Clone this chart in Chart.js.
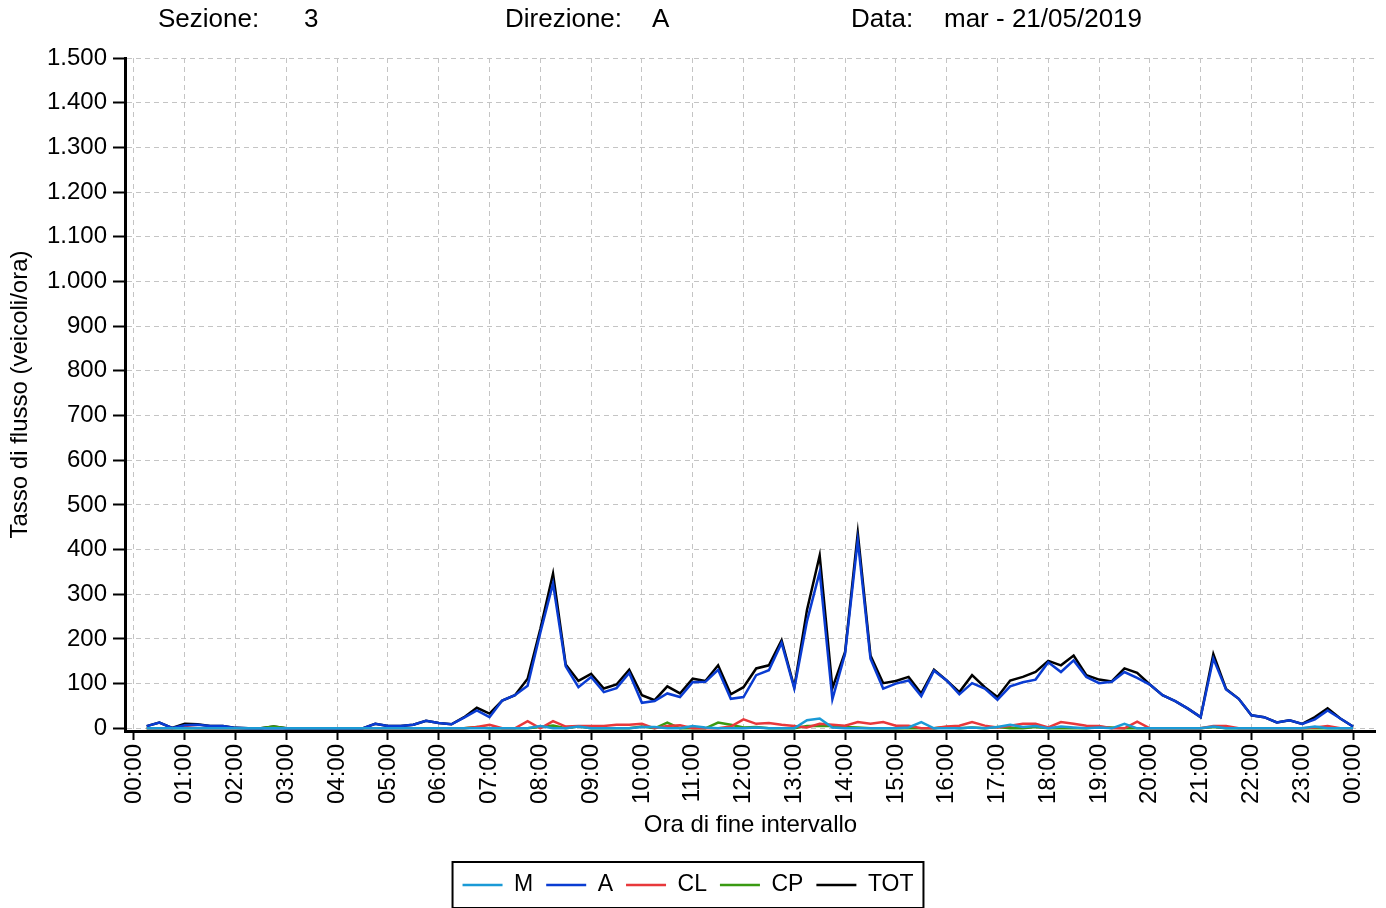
<!DOCTYPE html>
<html>
<head>
<meta charset="utf-8">
<script src="https://cdn.jsdelivr.net/npm/chart.js@4/dist/chart.umd.min.js"></script>
<style>
  html, body { margin: 0; padding: 0; background: #fff; }
  #wrap { width: 1386px; height: 908px; position: relative; }
</style>
</head>
<body>
<div id="wrap"><canvas id="c" width="1386" height="908"></canvas></div>
<script>
// ---- Data (15-minute intervals, end times 00:15 ... 24:00) ----
const intervalEnds = [];
for (let h = 0; h < 24; h++) {
  ['15', '30', '45'].forEach(m => intervalEnds.push(String(h).padStart(2, '0') + ':' + m));
  intervalEnds.push(String(h + 1).padStart(2, '0') + ':00');
}
const hourTickLabels = ['00:00','01:00','02:00','03:00','04:00','05:00','06:00','07:00','08:00','09:00','10:00','11:00','12:00','13:00','14:00','15:00','16:00','17:00','18:00','19:00','20:00','21:00','22:00','23:00','00:00'];
const yTicks = [0,100,200,300,400,500,600,700,800,900,1000,1100,1200,1300,1400,1500];

const seriesM = [
  0,0,0,0, 0,0,0,0, 0,0,0,0, 0,0,0,0, 0,0,0,0, 0,0,0,0,
  0,0,0,0, 0,0,0,5, 0,0,4,0, 0,0,0,3, 3,0,0,5, 2,0,0,0,
  2,0,0,0, 18,22,2,0, 0,0,0,0, 2,14,0,0, 0,2,0,3, 8,3,5,0,
  4,2,0,2, 0,10,0,0, 0,0,0,0, 4,0,0,0, 0,0,0,0, 4,0,0,0
];
const seriesA = [
  5,13,1,7, 8,5,5,1, 0,0,0,0, 0,0,0,0, 0,0,10,5, 5,8,17,12,
  9,24,40,25, 62,74,95,214, 324,139,92,115, 81,90,124,57, 61,78,70,103, 104,131,66,70,
  119,130,191,89, 240,350,65,167, 421,156,89,100, 107,72,129,107, 76,101,89,64, 94,103,109,148,
  126,152,115,101, 104,126,113,98, 74,61,44,25, 156,87,66,29, 25,13,18,10, 20,40,22,4
];
const seriesCL = [
  0,0,0,3, 0,0,0,0, 0,0,0,0, 0,0,0,0, 0,0,0,0, 0,0,0,0,
  0,0,3,8, 0,0,16,0, 16,4,5,5, 5,8,8,10, 0,5,7,0, 0,0,4,20,
  10,12,8,5, 2,10,8,6, 14,10,14,6, 6,0,0,4, 6,14,6,2, 6,10,10,2,
  14,10,6,5, 0,0,15,0, 0,0,0,0, 5,5,0,0, 0,0,0,0, 2,5,0,0
];
const seriesCP = [
  0,0,0,0, 0,0,0,0, 0,0,4,0, 0,0,0,0, 0,0,0,0, 0,0,0,0,
  0,0,3,0, 0,0,0,3, 6,0,4,0, 0,0,0,4, 0,13,0,0, 0,13,8,2,
  3,0,0,0, 5,5,5,3, 2,0,0,0, 0,0,0,3, 0,2,0,3, 0,0,3,0,
  0,0,0,3, 2,0,0,0, 0,0,0,0, 3,0,0,0, 0,0,0,0, 0,0,0,0
];
const seriesTOT = [
  5,13,1,10, 9,5,5,1, 0,0,4,0, 0,0,0,0, 0,0,10,5, 5,8,17,12,
  9,25,46,33, 62,74,111,222, 346,143,106,122, 89,98,131,74, 63,94,78,111, 106,141,76,92,
  134,141,197,92, 265,387,90,171, 437,163,101,106, 115,78,131,107, 81,119,92,70, 107,115,126,151,
  141,163,119,109, 105,134,124,98, 74,61,44,25, 166,88,66,29, 25,13,18,10, 25,45,22,4
];

const headerItems = [
  { text: 'Sezione:', x: 158 }, { text: '3', x: 304 },
  { text: 'Direzione:', x: 505 }, { text: 'A', x: 652 },
  { text: 'Data:', x: 851 }, { text: 'mar - 21/05/2019', x: 944 }
];

// ---- Helpers ----
const FONT = '"Liberation Sans", Arial, Helvetica, sans-serif';
const toMinutes = s => { const [h, m] = s.split(':').map(Number); return h * 60 + m; };
const toPoints = arr => arr.map((v, i) => ({ x: toMinutes(intervalEnds[i]), y: v }));
const fmtIt = v => String(v).replace(/\B(?=(\d{3})+(?!\d))/g, '.');

const mk = (label, data, color) => ({
  label, data: toPoints(data), borderColor: color, backgroundColor: color,
  borderWidth: 2.5, pointRadius: 0, tension: 0, fill: false
});

const headerPlugin = {
  id: 'header',
  afterDraw(chart) {
    const ctx = chart.ctx;
    ctx.save();
    ctx.fillStyle = '#000';
    ctx.font = '26px ' + FONT;
    ctx.textBaseline = 'middle';
    ctx.textAlign = 'left';
    headerItems.forEach(it => ctx.fillText(it.text, it.x, 20));
    ctx.restore();
  }
};

const legendBoxPlugin = {
  id: 'legendBox',
  afterDraw(chart) {
    const lg = chart.legend;
    if (!lg || !lg.legendHitBoxes || !lg.legendHitBoxes.length) return;
    const hb = lg.legendHitBoxes;
    const left = Math.min(...hb.map(b => b.left)) - 10;
    const right = Math.max(...hb.map(b => b.left + b.width)) + 10;
    const cy = hb[0].top + hb[0].height / 2;
    const ctx = chart.ctx;
    ctx.save();
    ctx.strokeStyle = '#000';
    ctx.lineWidth = 2;
    ctx.strokeRect(left, cy - 23, right - left, 46);
    ctx.restore();
  }
};

new Chart(document.getElementById('c'), {
  type: 'line',
  data: {
    datasets: [
      mk('M', seriesM, '#1A9AD6'),
      mk('A', seriesA, '#0A3CD2'),
      mk('CL', seriesCL, '#E8383B'),
      mk('CP', seriesCP, '#3A9A12'),
      mk('TOT', seriesTOT, '#000000')
    ]
  },
  options: {
    responsive: false,
    animation: false,
    events: [],
    layout: { padding: { top: 58, right: 10, left: 0, bottom: 1.5 } },
    plugins: {
      title: { display: false },
      tooltip: { enabled: false },
      legend: {
        position: 'bottom',
        labels: {
          usePointStyle: true, pointStyle: 'line', pointStyleWidth: 40,
          color: '#000', padding: 13,
          font: { family: FONT, size: 23 }
        }
      }
    },
    scales: {
      x: {
        type: 'linear',
        min: -10.6, max: 1467,
        afterBuildTicks(scale) { scale.ticks = hourTickLabels.map((_, i) => ({ value: i * 60 })); },
        afterFit(scale) { scale.height = 129.5; },
        ticks: {
          autoSkip: false, minRotation: 90, maxRotation: 90, padding: 4,
          color: '#000', font: { family: FONT, size: 24 },
          callback: (v) => hourTickLabels[Math.round(v / 60)]
        },
        grid: { color: '#c4c4c4', lineWidth: 1, tickColor: '#000', tickWidth: 2, tickLength: 9, tickBorderDash: [] },
        border: { display: true, color: '#000', width: 3, dash: [5, 4] },
        title: { display: true, text: 'Ora di fine intervallo', color: '#000', font: { family: FONT, size: 24 }, padding: { top: 4, bottom: 21 } }
      },
      y: {
        type: 'linear',
        min: -6, max: 1500,
        afterBuildTicks(scale) { scale.ticks = yTicks.map(v => ({ value: v })); },
        afterFit(scale) { scale.width = 125; },
        ticks: {
          autoSkip: false, padding: 6, color: '#000', font: { family: FONT, size: 24 },
          callback: (v) => fmtIt(v)
        },
        grid: { color: '#c4c4c4', lineWidth: 1, tickColor: '#000', tickWidth: 2, tickLength: 12, tickBorderDash: [] },
        border: { display: true, color: '#000', width: 3, dash: [5, 4] },
        title: { display: true, text: 'Tasso di flusso (veicoli/ora)', color: '#000', font: { family: FONT, size: 24 }, padding: { top: 6, bottom: 4 } }
      }
    }
  },
  plugins: [headerPlugin, legendBoxPlugin]
});
</script>
</body>
</html>
